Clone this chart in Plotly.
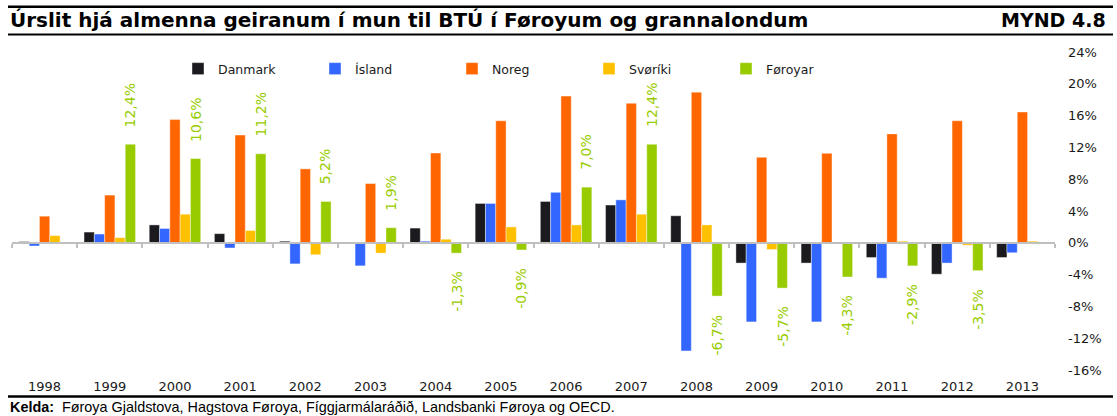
import plotly.graph_objects as go

# ---------------- data ----------------
years = [str(y) for y in range(1998, 2014)]
danmark = [0.15, 1.35, 2.25, 1.15, 0.2, 0.1, 1.85, 4.95, 5.2, 4.75, 3.4, -2.55, -2.55, -1.85, -3.95, -1.85]
island = [-0.4, 1.1, 1.8, -0.65, -2.65, -2.9, 0.2, 4.95, 6.35, 5.4, -13.6, -9.95, -9.95, -4.45, -2.55, -1.25]
noreg = [3.35, 6.0, 15.5, 13.55, 9.3, 7.45, 11.3, 15.35, 18.45, 17.55, 18.95, 10.75, 11.25, 13.7, 15.35, 16.45]
svoriki = [0.9, 0.65, 3.6, 1.55, -1.5, -1.3, 0.45, 2.0, 2.25, 3.6, 2.25, -0.85, 0.05, 0.2, -0.3, 0.2]
foroyar = [None, 12.4, 10.6, 11.2, 5.2, 1.9, -1.3, -0.9, 7.0, 12.4, -6.7, -5.7, -4.3, -2.9, -3.5, None]
series_names = ["Danmark", "Ísland", "Noreg", "Svøríki", "Føroyar"]
y_tick_vals = [-16, -12, -8, -4, 0, 4, 8, 12, 16, 20, 24]
y_tick_text = [f"{v}%" for v in y_tick_vals]
title_text = "Úrslit hjá almenna geiranum í mun til BTÚ í Føroyum og grannalondum"
fig_no = "MYND 4.8"
source_text = "<b>Kelda:</b>  Føroya Gjaldstova, Hagstova Føroya, Fíggjarmálaráðið, Landsbanki Føroya og OECD."

# ---------------- style ----------------
colors = ["#1b1b1f", "#3366ff", "#ff6600", "#ffc000", "#99cc00"]
W, H = 1117, 416
ML, MR, MT, MB = 12, 62, 52, 46
pw, ph = W - ML - MR, H - MT - MB


def px(x):
    return (x - ML) / pw


def py(y):
    return (H - MB - y) / ph


fig = go.Figure()
for name, vals, col in zip(series_names, [danmark, island, noreg, svoriki, foroyar], colors):
    fig.add_trace(go.Bar(
        x=years, y=vals, name=name,
        marker=dict(color=col, line=dict(width=0.8, color="rgba(255,255,255,0.5)")),
        xaxis="x", yaxis="y", hoverinfo="x+y+name",
    ))

# helper trace so the overlaid zero-line axis knows the categories
fig.add_trace(go.Scatter(x=years, y=noreg, xaxis="x2", yaxis="y", mode="none",
                         showlegend=False, hoverinfo="skip"))

ymin, ymax = y_tick_vals[0], y_tick_vals[-1]
zero_pos = (0 - ymin) / (ymax - ymin)
cat_range = [-0.5, len(years) - 0.5]

# data labels for Føroyar (x given as category index)
for i, v in enumerate(foroyar):
    if v is None:
        continue
    fig.add_annotation(
        x=i, y=v, xref="x", yref="y",
        text=f"{v:.1f}%".replace(".", ","),
        textangle=-90, showarrow=False,
        xshift=20.5, yshift=15 if v > 0 else -16,
        xanchor="center", yanchor="bottom" if v > 0 else "top",
        font=dict(family="DejaVu Sans", size=14, color="#99cc00"),
    )

# title & figure number
fig.add_annotation(x=px(8), y=py(20), xref="paper", yref="paper", text=f"<b>{title_text}</b>",
                   showarrow=False, xanchor="left", yanchor="middle",
                   font=dict(family="DejaVu Sans", size=20, color="#000000"))
fig.add_annotation(x=px(1108), y=py(20), xref="paper", yref="paper", text=f"<b>{fig_no}</b>",
                   showarrow=False, xanchor="right", yanchor="middle",
                   font=dict(family="DejaVu Sans", size=19, color="#000000"))
fig.add_annotation(x=px(8), y=py(407), xref="paper", yref="paper", text=source_text,
                   showarrow=False, xanchor="left", yanchor="middle",
                   font=dict(family="Liberation Sans", size=14.4, color="#000000"))

# rule lines
for yy, lw in [(6.7, 2.5), (34.5, 2), (396.5, 2.5)]:
    fig.add_shape(type="line", xref="paper", yref="paper", x0=px(8), x1=px(1113),
                  y0=py(yy), y1=py(yy), line=dict(color="#000000", width=lw))

fig.update_layout(
    template="none",
    width=W, height=H,
    margin=dict(l=ML, r=MR, t=MT, b=MB, pad=0, autoexpand=False),
    paper_bgcolor="white", plot_bgcolor="white",
    barmode="group", bargap=0.21, bargroupgap=0,
    showlegend=True,
    legend=dict(orientation="h", x=px(178), y=py(69), xanchor="left", yanchor="middle",
                font=dict(family="DejaVu Sans", size=12.5, color="#1a1a1a"),
                bgcolor="rgba(0,0,0,0)", entrywidth=92, entrywidthmode="pixels",
                traceorder="normal"),
    xaxis=dict(type="category", range=cat_range, showline=False, ticks="", showgrid=False,
               zeroline=False, automargin=False,
               tickfont=dict(family="DejaVu Sans", size=13, color="#1a1a1a"),
               ticklabelstandoff=7),
    xaxis2=dict(type="category", overlaying="x", range=cat_range, anchor="free", position=zero_pos,
                side="bottom", showline=True, linecolor="#c0c0c0", linewidth=2,
                ticks="outside", tickson="boundaries", ticklen=4, tickwidth=1.5,
                tickcolor="#c0c0c0", showticklabels=False, showgrid=False, zeroline=False,
                automargin=False),
    yaxis=dict(range=[ymin, ymax], side="right", tickvals=y_tick_vals, ticktext=y_tick_text,
               showgrid=False, zeroline=False, showline=False, ticks="", automargin=False,
               tickfont=dict(family="DejaVu Sans", size=13, color="#1a1a1a"),
               ticklabelstandoff=12),
    font=dict(family="DejaVu Sans"),
)

fig.write_html("out.html", config={"displayModeBar": False},
               post_script="document.body.style.margin='0';")
